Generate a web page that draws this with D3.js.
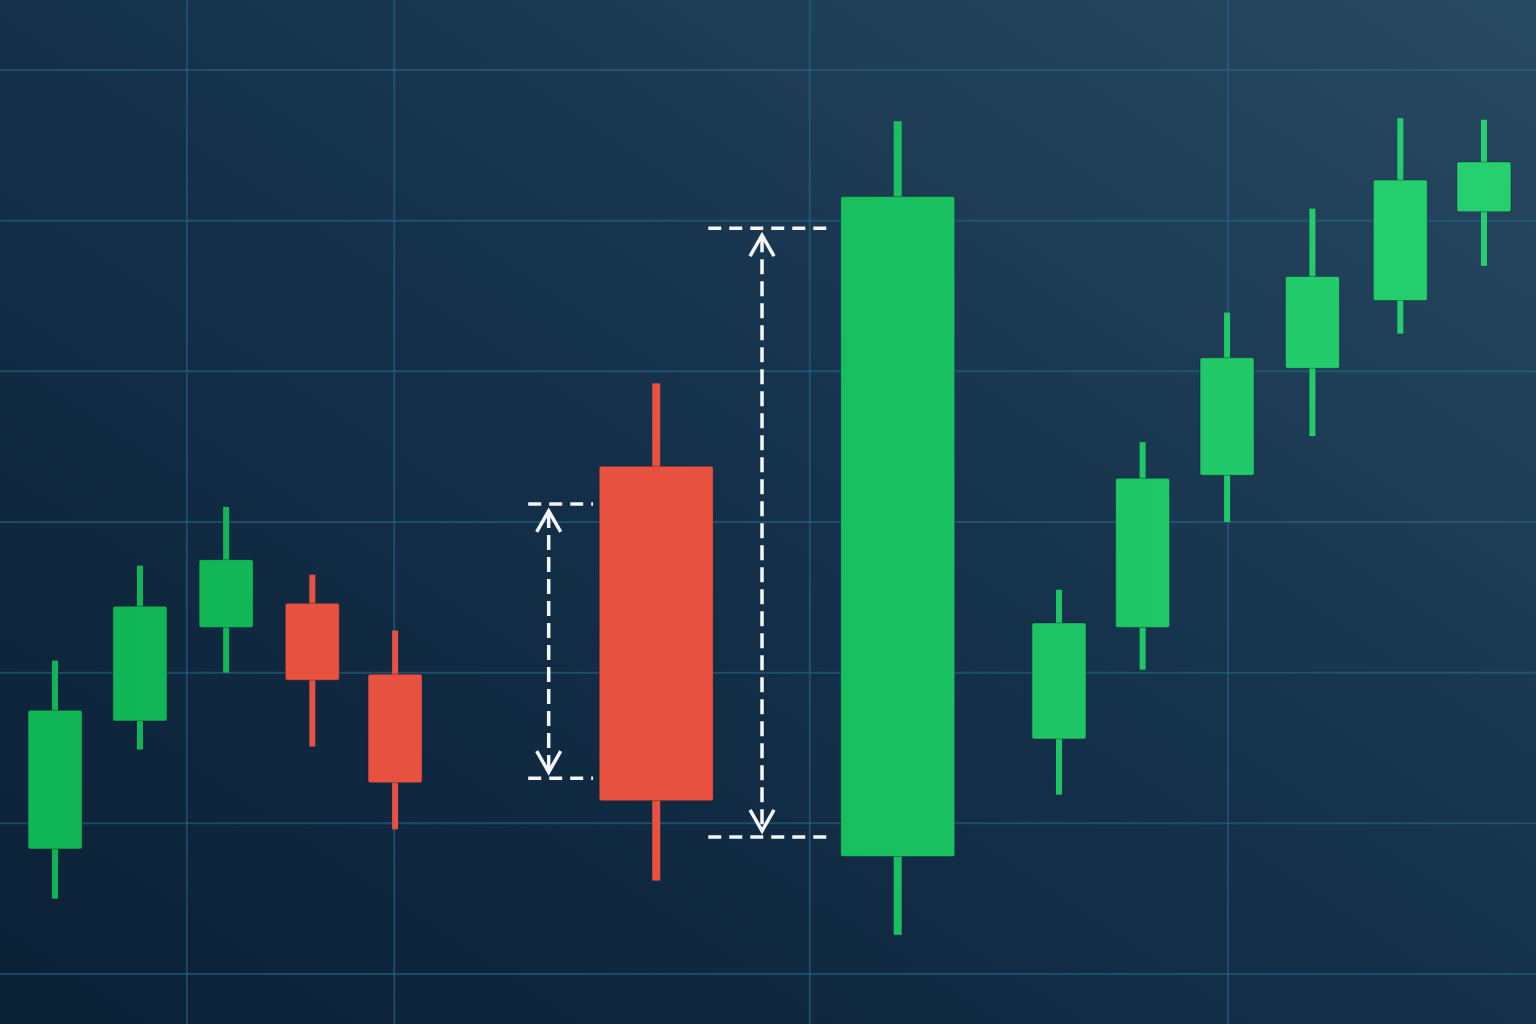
<!DOCTYPE html>
<html><head><meta charset="utf-8">
<script src="https://cdn.jsdelivr.net/npm/d3@7"></script>
<style>html,body{margin:0;padding:0;background:#0d2438;overflow:hidden}</style>
</head><body><svg id="c" width="1536" height="1024"></svg>
<script>
// ---- data ----
const t     = [0.645, 1.64, 2.65, 3.66, 4.63, 7.69, 10.52, 12.41, 13.39, 14.38, 15.38, 16.41, 17.39];
const open  = [108.3, 116.8, 123.0, 124.6, 119.9, 133.7, 107.8, 115.6, 123.0, 133.1, 140.2, 144.7, 150.6];
const close = [117.5, 124.4, 127.5, 119.5, 112.7, 111.5, 151.6, 123.3, 132.9, 140.9, 146.3, 152.7, 153.9];
const high  = [120.8, 127.1, 131.0, 126.5, 122.8, 139.2, 156.6, 125.5, 135.3, 143.9, 150.8, 156.8, 156.7];
const low   = [105.0, 114.9, 120.0, 115.1, 109.6, 106.2, 102.6, 111.9, 120.2, 130.0, 135.7, 142.5, 147.0];
const highlighted = [5, 6];                 // the two pattern candles
const priceTicks = [100, 110, 120, 130, 140, 150, 160];
const timeTicks  = [2.19, 4.62, 9.49, 14.39];
// range annotations (price levels, position in time units)
const annTop    = [131.2, 149.5];
const annBottom = [113.0, 109.1];
const annArrowT = [6.43, 8.93];
const annFromT  = [6.19, 8.30];
const annToT    = [6.95, 9.77];

// ---- layout ----
const W = 1536, H = 1024;
const svg = d3.select('#c');
const x = d3.scaleLinear().domain([0, 18]).range([0, W]);
const y = d3.scaleLinear().domain([100, 160]).range([974, 70]);

const defs = svg.append('defs');
const bg = defs.append('linearGradient').attr('id','bg')
  .attr('x1',0).attr('y1',1).attr('x2',1).attr('y2',0);
bg.append('stop').attr('offset',0).attr('stop-color','#0a2035');
bg.append('stop').attr('offset',0.5).attr('stop-color','#14304a');
bg.append('stop').attr('offset',1).attr('stop-color','#284a62');
const gg = defs.append('linearGradient').attr('id','gr')
  .attr('gradientUnits','userSpaceOnUse').attr('x1',0).attr('y1',0).attr('x2',W).attr('y2',0);
gg.append('stop').attr('offset',0).attr('stop-color','#0fb455');
gg.append('stop').attr('offset',0.55).attr('stop-color','#18bf5e');
gg.append('stop').attr('offset',1).attr('stop-color','#28d170');

svg.append('rect').attr('width',W).attr('height',H).attr('fill','url(#bg)');

// grid
const grid = svg.append('g').attr('stroke','rgba(40,105,140,0.55)').attr('stroke-width',2);
grid.selectAll('.h').data(priceTicks).join('line')
  .attr('x1',0).attr('x2',W).attr('y1',d=>y(d)).attr('y2',d=>y(d));
grid.selectAll('.v').data(timeTicks).join('line')
  .attr('y1',0).attr('y2',H).attr('x1',d=>x(d)).attr('x2',d=>x(d));

const candles = t.map((tt,i)=>({t:tt,o:open[i],c:close[i],h:high[i],l:low[i],big:highlighted.includes(i)}));
const color = d => d.c >= d.o ? 'url(#gr)' : '#e6523f';

const g = svg.append('g');
g.selectAll('.wick').data(candles).join('rect')
  .attr('x', d => x(d.t) - (d.big ? 4 : 3))
  .attr('width', d => d.big ? 8 : 6)
  .attr('y', d => y(d.h))
  .attr('height', d => y(d.l) - y(d.h))
  .attr('fill', color);
g.selectAll('.body').data(candles).join('rect')
  .attr('x', d => x(d.t) - (d.big ? 57 : 27))
  .attr('width', d => d.big ? 114 : 54)
  .attr('y', d => y(Math.max(d.o,d.c)))
  .attr('height', d => Math.abs(y(d.o) - y(d.c)))
  .attr('rx', 2)
  .attr('fill', color)
  .attr('stroke','rgba(5,20,35,0.35)').attr('stroke-width',1);

// annotations
const ann = svg.append('g').attr('stroke','#f4f6f8').attr('stroke-width',3.5).attr('fill','none');
annTop.forEach((top,i)=>{
  const yt = y(top), yb = y(annBottom[i]), xa = x(annArrowT[i]);
  [yt,yb].forEach(yy=>{
    ann.append('line').attr('x1',x(annFromT[i])).attr('x2',x(annToT[i]))
      .attr('y1',yy).attr('y2',yy).attr('stroke-dasharray','13 8');
  });
  const tipT = yt + 7, tipB = yb - 6;
  ann.append('line').attr('x1',xa).attr('x2',xa).attr('y1',tipT+2).attr('y2',tipB-2)
    .attr('stroke-dasharray','15 7');
  const line = d3.line();
  ann.append('path').attr('d', line([[xa-12,tipT+21],[xa,tipT],[xa+12,tipT+21]]))
    .attr('stroke-linejoin','miter');
  ann.append('path').attr('d', line([[xa-12,tipB-21],[xa,tipB],[xa+12,tipB-21]]))
    .attr('stroke-linejoin','miter');
});
</script></body></html>
